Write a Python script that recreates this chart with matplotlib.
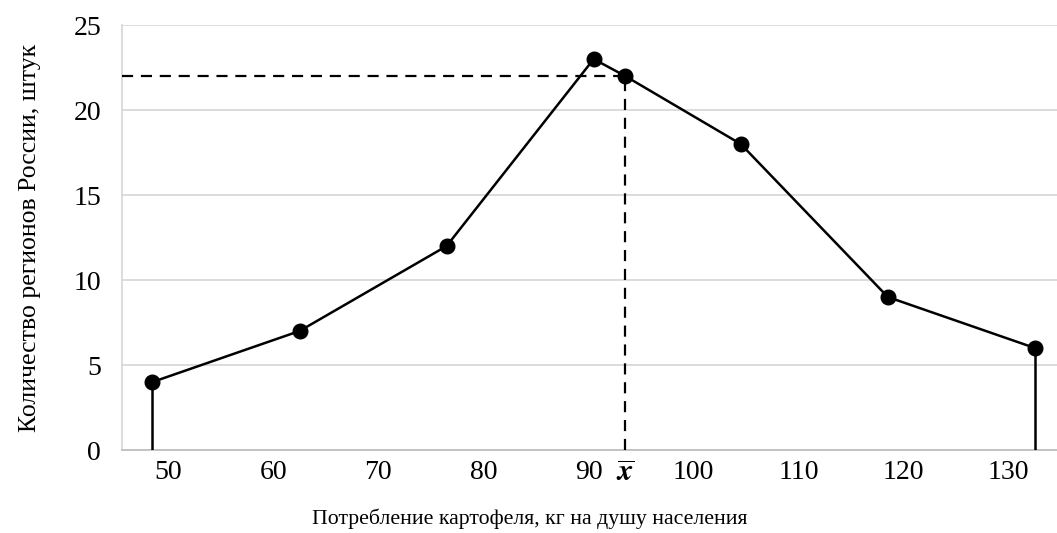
import matplotlib.pyplot as plt

plt.rcParams['font.family'] = ['Liberation Serif', 'DejaVu Serif']
plt.rcParams['mathtext.fontset'] = 'stix'

# interval midpoints and number of regions
mid_x = [48.5, 62.5, 76.5, 90.5, 104.5, 118.5, 132.5]
counts = [4, 7, 12, 23, 18, 9, 6]
# sample mean and the polygon value at it
x_mean = 93.5
y_mean = 22

x_ticks = [50, 60, 70, 80, 90, 100, 110, 120, 130]
y_ticks = [0, 5, 10, 15, 20, 25]

# polygon passes through the mean point
line_x = mid_x[:4] + [x_mean] + mid_x[4:]
line_y = counts[:4] + [y_mean] + counts[4:]

fig = plt.figure(figsize=(10.57, 5.33), dpi=100)
ax = fig.add_axes([0.1154, 0.1557, 0.8846, 0.7973])

x_min, x_max = 45.6, 134.6
ax.set_xlim(x_min, x_max)
ax.set_ylim(0, 25)

ax.plot(line_x, line_y, color='black', lw=1.8, marker='o', ms=10.5, zorder=4)
# vertical lines at the ends of the polygon
ax.plot([mid_x[0], mid_x[0]], [0, counts[0]], color='black', lw=1.8, zorder=4)
ax.plot([mid_x[-1], mid_x[-1]], [0, counts[-1]], color='black', lw=1.8, zorder=4)

# dashed guides to the mean
ax.plot([x_min, x_mean], [y_mean, y_mean], color='black', lw=1.6,
        ls=(0, (5, 3.5)), zorder=3)
ax.plot([x_mean, x_mean], [0, y_mean], color='black', lw=1.6,
        ls=(0, (5, 3.5)), zorder=3)

ticks = x_ticks[:5] + [x_mean] + x_ticks[5:]
labels = [str(t) for t in x_ticks[:5]] + [r'$\overline{\mathbfit{x}}$'] + [str(t) for t in x_ticks[5:]]
ax.set_xticks(ticks)
ax.set_xticklabels(labels, fontsize=20)
ax.get_xticklabels()[5].set_fontsize(22)
ax.set_yticks(y_ticks)
ax.set_yticklabels([str(t) for t in y_ticks], fontsize=20)
ax.tick_params(length=0, pad=7)
ax.tick_params(axis='y', pad=15)

ax.grid(axis='y', color='#d9d9d9', lw=1.3)
ax.set_axisbelow(True)
for s in ['top', 'right']:
    ax.spines[s].set_visible(False)
ax.spines['left'].set_color('#d9d9d9')
ax.spines['bottom'].set_color('#bfbfbf')
ax.spines['left'].set_linewidth(1.3)
ax.spines['bottom'].set_linewidth(1.3)

ax.set_xlabel('Потребление картофеля, кг на душу населения', fontsize=15.7, labelpad=14)
ax.xaxis.label.set_x(0.436)
ax.set_ylabel('Количество регионов России, штук', fontsize=18.5, labelpad=23)

fig.savefig('out.png', dpi=100)
